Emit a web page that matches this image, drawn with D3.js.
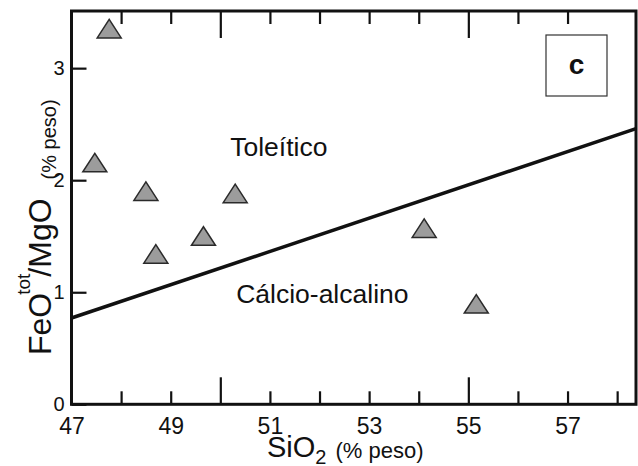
<!DOCTYPE html>
<meta charset="utf-8">
<script src="https://d3js.org/d3.v7.min.js"></script>
<style>
  body { margin: 0; background: #fff; }
  text { font-family: "Liberation Sans", Arial, sans-serif; fill: #111; }
</style>
<div id="chart"></div>
<script>

// data
var sio2 = [47.76, 47.47, 48.50, 50.30, 49.66, 48.70, 54.11, 55.16];
var feoMgo = [3.35, 2.155, 1.90, 1.88, 1.50, 1.34, 1.57, 0.895];
var dividerX = [47, 58.38];
var dividerY = [0.77, 2.46];
var xLabelTicks = [47, 49, 51, 53, 55, 57];
var xMinorTicks = [48, 49, 51, 52, 53, 54, 56, 57, 58];
var xMajorTicks = [50, 55];
var yTicks = [0, 1, 2, 3];

var width = 638, height = 466;
var plotL = 71.5, plotR = 636, plotT = 11, plotB = 404.3;

var svg = d3.select("#chart")
  .append("svg")
    .attr("width", width)
    .attr("height", height);

var x = d3.scaleLinear().domain([47, 58.38]).range([plotL, plotR]);
var y = d3.scaleLinear().domain([0, 3.51]).range([plotB, plotT]);

function styleTicks(g) {
  g.select(".domain").remove();
  g.selectAll("line").attr("stroke", "#111").attr("stroke-width", 2.2);
}

// bottom ticks (inward)
svg.append("g")
  .attr("transform", "translate(0," + plotB + ")")
  .call(d3.axisBottom(x).tickValues(xMinorTicks).tickSize(-13).tickFormat(""))
  .call(styleTicks);

svg.append("g")
  .attr("transform", "translate(0," + plotB + ")")
  .call(d3.axisBottom(x).tickValues(xMajorTicks).tickSize(-27).tickFormat(""))
  .call(styleTicks);

// top ticks (inward)
svg.append("g")
  .attr("transform", "translate(0," + plotT + ")")
  .call(d3.axisTop(x).tickValues(xMinorTicks.filter(function(d) { return d < 58; })).tickSize(-13).tickFormat(""))
  .call(styleTicks);

svg.append("g")
  .attr("transform", "translate(0," + plotT + ")")
  .call(d3.axisTop(x).tickValues(xMajorTicks).tickSize(-27).tickFormat(""))
  .call(styleTicks);

// x tick labels
svg.append("g")
  .attr("transform", "translate(0," + plotB + ")")
  .call(d3.axisBottom(x).tickValues(xLabelTicks).tickSize(0).tickPadding(13).tickFormat(d3.format("d")))
  .call(function(g) { g.select(".domain").remove(); })
  .selectAll("text")
    .style("font-size", "23px")
    .attr("fill", "#111");

// y axis
svg.append("g")
  .attr("transform", "translate(" + plotL + ",0)")
  .call(d3.axisLeft(y).tickValues(yTicks).tickSize(-15).tickPadding(7).tickFormat(d3.format("d")))
  .call(styleTicks)
  .selectAll("text")
    .style("font-size", "20px")
    .attr("fill", "#111");

// frame
svg.append("rect")
  .attr("x", plotL)
  .attr("y", plotT)
  .attr("width", plotR - plotL)
  .attr("height", plotB - plotT)
  .attr("fill", "none")
  .attr("stroke", "#111")
  .attr("stroke-width", 3);

// divider line
svg.append("path")
  .datum(d3.zip(dividerX, dividerY))
  .attr("d", d3.line()
    .x(function(d) { return x(d[0]); })
    .y(function(d) { return y(d[1]); }))
  .attr("fill", "none")
  .attr("stroke", "#111")
  .attr("stroke-width", 3.5);

// triangles
svg.selectAll(".tri")
  .data(d3.zip(sio2, feoMgo))
  .enter()
  .append("path")
    .attr("class", "tri")
    .attr("d", function(d) {
      var cx = x(d[0]), cy = y(d[1]);
      return "M" + (cx - 12) + "," + (cy + 9) + "L" + (cx + 12) + "," + (cy + 9) + "L" + cx + "," + (cy - 9.5) + "Z";
    })
    .attr("fill", "#9c9c9c")
    .attr("stroke", "#2a2a2a")
    .attr("stroke-width", 1.5);

// field names
svg.append("text")
  .attr("x", x(50.2))
  .attr("y", y(2.217))
  .style("font-size", "26.5px")
  .text("Toleítico");

svg.append("text")
  .attr("x", x(50.32))
  .attr("y", y(0.907))
  .style("font-size", "26.5px")
  .text("Cálcio-alcalino");

// panel letter
svg.append("rect")
  .attr("x", 546)
  .attr("y", 35)
  .attr("width", 61)
  .attr("height", 61)
  .attr("fill", "#fff")
  .attr("stroke", "#333")
  .attr("stroke-width", 1.2);

svg.append("text")
  .attr("x", 576.5)
  .attr("y", 74)
  .attr("text-anchor", "middle")
  .style("font-size", "28px")
  .style("font-weight", "bold")
  .text("c");

// x axis title
var xt = svg.append("text")
  .attr("x", 267)
  .attr("y", 457)
  .style("font-size", "29px");
xt.append("tspan").text("SiO");
xt.append("tspan").attr("dy", 7).style("font-size", "20px").text("2");
xt.append("tspan").attr("dy", -6).attr("dx", 9).style("font-size", "22px").text("(% peso)");

// y axis title
var yt = svg.append("text")
  .attr("transform", "translate(51,355) rotate(-90)")
  .style("font-size", "32px");
yt.append("tspan").text("FeO");
yt.append("tspan").attr("dy", -21).attr("dx", -2).style("font-size", "19px").text("tot");
yt.append("tspan").attr("dy", 21).attr("dx", -3).text("/MgO");
yt.append("tspan").attr("dy", 5).attr("dx", 19).style("font-size", "20px").text("(% peso)");

</script>
